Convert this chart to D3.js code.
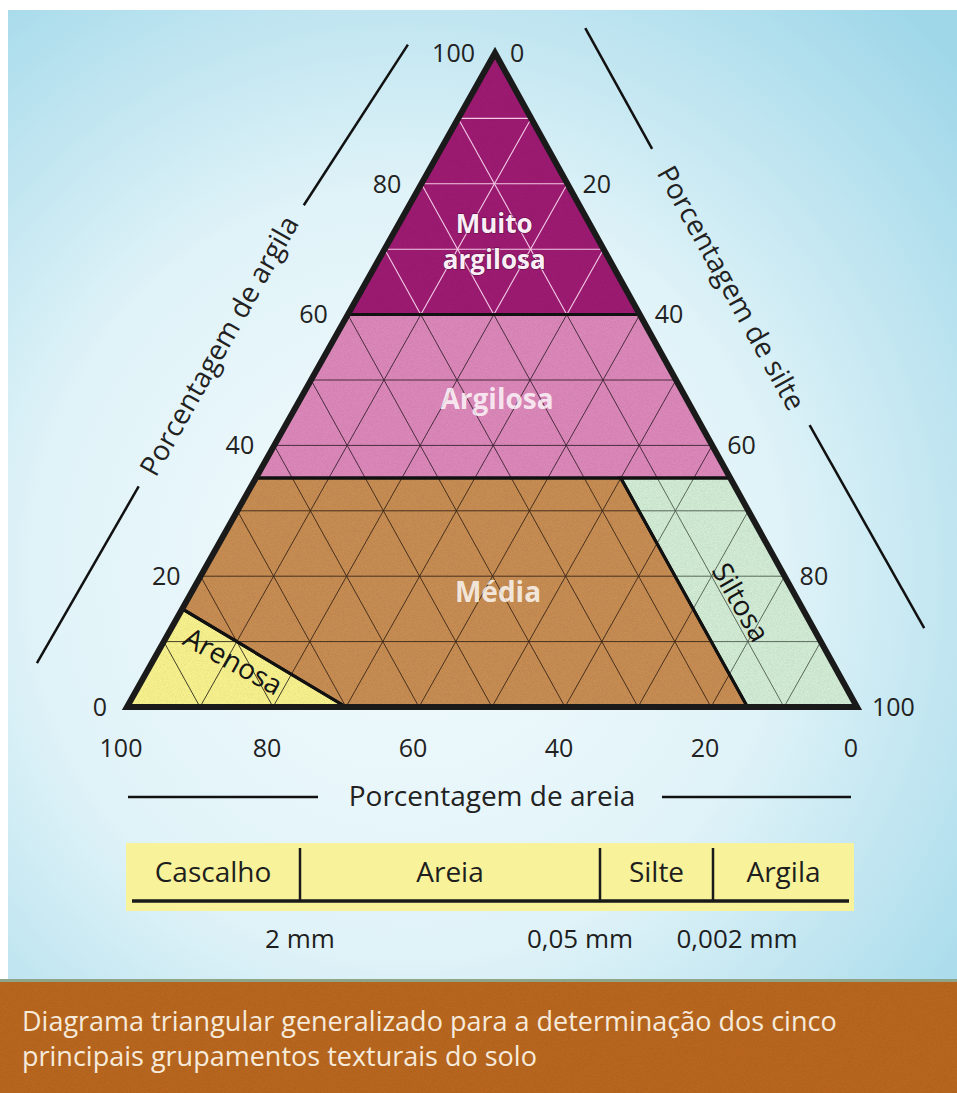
<!DOCTYPE html>
<html>
<head>
<meta charset="utf-8">
<script src="https://cdn.jsdelivr.net/npm/d3@7"></script>
<style>
  body { margin: 0; background: #fff; }
  svg { display: block; font-family: "Open Sans", "Noto Sans", sans-serif; }
</style>
</head>
<body>
<script>
// Classes texturais do solo, vértices em (areia, silte, argila) %
const classNames = ["Muito argilosa", "Argilosa", "Média", "Siltosa", "Arenosa"];
const classVertices = [
  [[40, 0, 60], [0, 40, 60], [0, 0, 100]],
  [[65, 0, 35], [0, 65, 35], [0, 40, 60], [40, 0, 60]],
  [[65, 0, 35], [15, 50, 35], [15, 85, 0], [70, 30, 0], [85, 0, 15]],
  [[15, 50, 35], [0, 65, 35], [0, 100, 0], [15, 85, 0]],
  [[85, 0, 15], [70, 30, 0], [100, 0, 0]]
];
const axisTicks = [0, 20, 40, 60, 80, 100];
const gridValues = [10, 20, 30, 40, 50, 60, 70, 80, 90];
const axisTitles = ["Porcentagem de argila", "Porcentagem de silte", "Porcentagem de areia"];
const fractions = ["Cascalho", "Areia", "Silte", "Argila"];
const fractionLimits = ["2 mm", "0,05 mm", "0,002 mm"];
const caption = [
  "Diagrama triangular generalizado para a determinação dos cinco",
  "principais grupamentos texturais do solo"
];

const W = 957, H = 1093;

const svg = d3.select("body").append("svg")
  .attr("width", W)
  .attr("height", H);
const defs = svg.append("defs");

// fundo azul claro
const bg = defs.append("radialGradient").attr("id", "bg")
  .attr("cx", 0.42).attr("cy", 0.58).attr("r", 0.78);
bg.append("stop").attr("offset", "0%").attr("stop-color", "#f3fbfd");
bg.append("stop").attr("offset", "50%").attr("stop-color", "#e0f3f8");
bg.append("stop").attr("offset", "100%").attr("stop-color", "#9fd7e9");

// granulado de impressão
const grain = defs.append("filter").attr("id", "grain")
  .attr("x", 0).attr("y", 0).attr("width", "100%").attr("height", "100%");
grain.append("feTurbulence")
  .attr("type", "fractalNoise").attr("baseFrequency", 1.3)
  .attr("numOctaves", 1).attr("seed", 7);
grain.append("feColorMatrix")
  .attr("type", "matrix")
  .attr("values", "0 0 0 0 0  0 0 0 0 0  0 0 0 0 0  1.1 0 0 0 -0.4");

svg.append("rect").attr("width", W).attr("height", H).attr("fill", "#fff");
svg.append("rect")
  .attr("x", 8).attr("y", 10)
  .attr("width", W - 8).attr("height", 972)
  .attr("fill", "url(#bg)");

// escalas do triângulo
const yClay = d3.scaleLinear().domain([0, 100]).range([707, 53]);
const xSilt = d3.scaleLinear().domain([0, 100]).range([127, 857]);
const xLean = d3.scaleLinear().domain([0, 100]).range([0, 368]);
const proj = ([sa, si, cl]) => [xSilt(si) + xLean(cl), yClay(cl)];

const gridLines = gridValues.flatMap(v => [
  [[100 - v, 0, v], [0, 100 - v, v]],   // argila constante
  [[v, 100 - v, 0], [v, 0, 100 - v]],   // areia constante
  [[100 - v, v, 0], [0, v, 100 - v]]    // silte constante
]);

const fills = ["#9d1b72", "#dc88ba", "#c78d53", "#d2ecd5", "#f8f28e"];
const gridColor = ["#f3cbe6", "#3a2332", "#3a2616", "#4d5a4e", "#2d2a1c"];
const gridWidth = [1.1, 0.9, 0.9, 0.9, 0.9];

const line = d3.line();

classVertices.forEach((verts, i) => {
  defs.append("clipPath").attr("id", "clip" + i)
    .append("path").attr("d", line(verts.map(proj)) + "Z");
  const g = svg.append("g").attr("clip-path", `url(#clip${i})`);
  g.append("path")
    .attr("d", line(verts.map(proj)) + "Z")
    .attr("fill", fills[i]);
  g.append("rect")
    .attr("x", 100).attr("y", 40).attr("width", 780).attr("height", 680)
    .attr("filter", "url(#grain)")
    .attr("opacity", 0.14);
  g.selectAll("line")
    .data(gridLines)
    .join("line")
    .attr("x1", d => proj(d[0])[0]).attr("y1", d => proj(d[0])[1])
    .attr("x2", d => proj(d[1])[0]).attr("y2", d => proj(d[1])[1])
    .attr("stroke", gridColor[i])
    .attr("stroke-width", gridWidth[i]);
});

// limites das classes
svg.append("g").selectAll("path")
  .data(classVertices)
  .join("path")
  .attr("d", d => line(d.map(proj)) + "Z")
  .attr("fill", "none")
  .attr("stroke", "#111")
  .attr("stroke-width", 3)
  .attr("stroke-linejoin", "miter");

// contorno do triângulo
svg.append("path")
  .attr("d", line([[100, 0, 0], [0, 100, 0], [0, 0, 100]].map(proj)) + "Z")
  .attr("fill", "none")
  .attr("stroke", "#1a1a1a")
  .attr("stroke-width", 6)
  .attr("stroke-linejoin", "miter");

// rótulos dos eixos
const tickFont = 25;
svg.append("g").selectAll("text")
  .data(axisTicks)
  .join("text")
  .attr("x", d => proj([100 - d, 0, d])[0] - 20)
  .attr("y", d => proj([100 - d, 0, d])[1])
  .attr("dy", "0.35em")
  .attr("text-anchor", "end")
  .attr("font-size", tickFont)
  .attr("fill", "#222")
  .text(d => d);

svg.append("g").selectAll("text")
  .data(axisTicks)
  .join("text")
  .attr("x", d => proj([0, d, 100 - d])[0] + 15)
  .attr("y", d => proj([0, d, 100 - d])[1])
  .attr("dy", "0.35em")
  .attr("text-anchor", "start")
  .attr("font-size", tickFont)
  .attr("fill", "#222")
  .text(d => d);

svg.append("g").selectAll("text")
  .data(axisTicks)
  .join("text")
  .attr("x", d => proj([d, 100 - d, 0])[0] - 6)
  .attr("y", d => proj([d, 100 - d, 0])[1] + 41)
  .attr("dy", "0.35em")
  .attr("text-anchor", "middle")
  .attr("font-size", tickFont)
  .attr("fill", "#222")
  .text(d => d);

// títulos dos eixos: paralelos às arestas, com traços
function edgeTitle(from, to, outward, segs, textAt, textDist, label) {
  const a = proj(from), b = proj(to);
  const len = Math.hypot(b[0] - a[0], b[1] - a[1]);
  const u = [(b[0] - a[0]) / len, (b[1] - a[1]) / len];
  const n = outward > 0 ? [u[1], -u[0]] : [-u[1], u[0]];
  const at = (s, d) => [a[0] + u[0] * s + n[0] * d, a[1] + u[1] * s + n[1] * d];
  segs.forEach(([s0, d0, s1, d1]) => {
    const p = at(s0, d0), q = at(s1, d1);
    svg.append("line")
      .attr("x1", p[0]).attr("y1", p[1]).attr("x2", q[0]).attr("y2", q[1])
      .attr("stroke", "#111").attr("stroke-width", 2.5);
  });
  const c = at(textAt, textDist);
  const ang = Math.atan2(u[1], u[0]) * 180 / Math.PI;
  svg.append("text")
    .attr("transform", `translate(${c[0]},${c[1]}) rotate(${ang})`)
    .attr("text-anchor", "middle")
    .attr("dy", "0.32em")
    .attr("font-size", 28)
    .attr("fill", "#222")
    .text(label);
}
edgeTitle([100, 0, 0], [0, 0, 100], 1, [[-6, 100, 198, 98], [524, 92, 715, 80]], 360, 96, axisTitles[0]);
edgeTitle([0, 0, 100], [0, 100, 0], 1, [[22, 91, 160, 91], [478, 95, 711, 97]], 320, 92, axisTitles[1]);
edgeTitle([100, 0, 0], [0, 100, 0], -1, [[1, 90, 191, 90], [535, 90, 724, 90]], 365, 90, axisTitles[2]);

// nomes das classes
const labelAt = [[13, 13, 74], [26, 27, 47], [40, 42, 17.5], [8, 76, 16], [82, 11, 7]];
const labels = svg.append("g").attr("font-size", 28);

const mc = proj(labelAt[0]);
["Muito", "argilosa"].forEach((w, k) => {
  labels.append("text")
    .attr("x", mc[0]).attr("y", mc[1] + 10 + k * 36)
    .attr("text-anchor", "middle")
    .attr("font-size", 26)
    .attr("font-weight", 700)
    .attr("fill", "#fbeef6")
    .attr("stroke", "#5e0c44").attr("stroke-width", 1.2).attr("paint-order", "stroke")
    .text(w);
});

[1, 2].forEach(i => {
  const p = proj(labelAt[i]);
  labels.append("text")
    .attr("x", p[0]).attr("y", p[1])
    .attr("dy", "0.35em")
    .attr("text-anchor", "middle")
    .attr("font-weight", 700)
    .attr("fill", "#fff")
    .attr("fill-opacity", 0.8)
    .text(classNames[i]);
});

[[3, 60], [4, 29]].forEach(([i, ang]) => {
  const p = proj(labelAt[i]);
  labels.append("text")
    .attr("transform", `translate(${p[0]},${p[1]}) rotate(${ang})`)
    .attr("dy", "0.35em")
    .attr("text-anchor", "middle")
    .attr("fill", "#151515")
    .text(classNames[i]);
});

// escala granulométrica
const cols = [126, 300, 600, 713, 854];
const tbl = svg.append("g");
tbl.append("rect")
  .attr("x", cols[0]).attr("y", 843)
  .attr("width", cols[4] - cols[0]).attr("height", 68)
  .attr("fill", "#f8f39a");
tbl.append("line")
  .attr("x1", cols[0] + 6).attr("x2", cols[4] - 5)
  .attr("y1", 901).attr("y2", 901)
  .attr("stroke", "#1a1a1a").attr("stroke-width", 3.5);
tbl.selectAll(".div")
  .data(cols.slice(1, 4))
  .join("line")
  .attr("x1", d => d).attr("x2", d => d)
  .attr("y1", 848).attr("y2", 901)
  .attr("stroke", "#1a1a1a").attr("stroke-width", 2.5);
tbl.selectAll(".frac")
  .data(fractions)
  .join("text")
  .attr("x", (d, i) => (cols[i] + cols[i + 1]) / 2)
  .attr("y", 872)
  .attr("dy", "0.35em")
  .attr("text-anchor", "middle")
  .attr("font-size", 28)
  .attr("fill", "#1e1e1e")
  .text(d => d);
const limitShift = [0, -20, 24];
tbl.selectAll(".lim")
  .data(fractionLimits)
  .join("text")
  .attr("x", (d, i) => cols[i + 1] + limitShift[i])
  .attr("y", 939)
  .attr("dy", "0.35em")
  .attr("text-anchor", "middle")
  .attr("font-size", 26)
  .attr("fill", "#1e1e1e")
  .text(d => d);

// faixa da legenda
svg.append("rect")
  .attr("x", 0).attr("y", 981)
  .attr("width", W).attr("height", H - 981)
  .attr("fill", "#b9671f");
svg.append("rect")
  .attr("x", 0).attr("y", 981)
  .attr("width", W).attr("height", H - 981)
  .attr("filter", "url(#grain)")
  .attr("opacity", 0.14);
svg.append("rect")
  .attr("x", 0).attr("y", 979)
  .attr("width", W).attr("height", 3)
  .attr("fill", "#8fa58a");
svg.append("g").selectAll("text")
  .data(caption)
  .join("text")
  .attr("x", 22)
  .attr("y", (d, i) => 1022 + i * 35)
  .attr("dy", "0.35em")
  .attr("font-size", 27)
  .attr("fill", "#f6eadb")
  .text(d => d);
</script>
</body>
</html>
